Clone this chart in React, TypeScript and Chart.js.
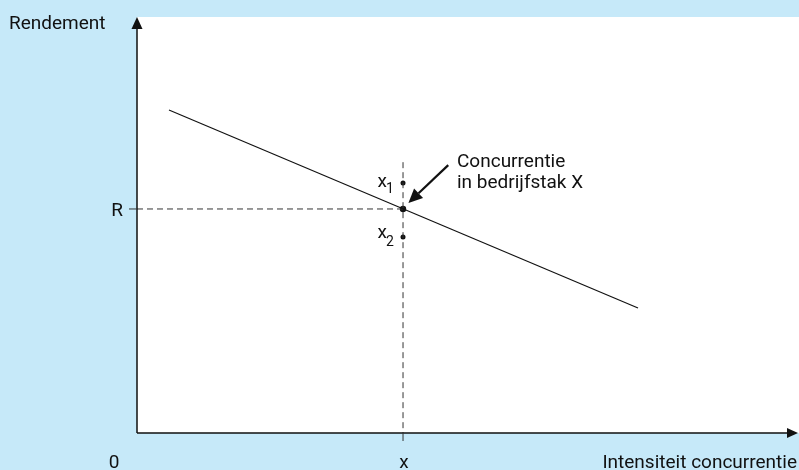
import React, { useEffect, useRef } from "react";
import { Chart, registerables } from "chart.js";

Chart.register(...registerables);

// Demand-style line: Rendement vs Intensiteit concurrentie
const lineX = [0.486, 7.614];
const lineY = [7.764, 3.005];
// Competition marker in sector X
const markX = 4.043;
const markR = 5.385;
const x1Y = 6.01;
const x2Y = 4.71;
const guideTop = 6.51;
// Annotation arrow (data coords)
const arrowFrom = [4.73, 6.44];
const arrowTo = [4.125, 5.53];

const axisLabelY = "Rendement";
const axisLabelX = "Intensiteit concurrentie";
const tickLabelR = "R";
const tickLabelX = "x";
const originLabel = "0";
const noteLines = ["Concurrentie", "in bedrijfstak X"];

const FONT = "Roboto, 'Liberation Sans', sans-serif";
const BG = "#c6e9f9";
const INK = "#111111";

const decorPlugin = {
  id: "decor",
  beforeDraw(chart: any) {
    const { ctx, chartArea, width, height } = chart;
    ctx.save();
    ctx.fillStyle = BG;
    ctx.fillRect(0, 0, width, height);
    ctx.fillStyle = "#ffffff";
    ctx.fillRect(chartArea.left, chartArea.top, width - chartArea.left, chartArea.bottom - chartArea.top);
    ctx.restore();
  },
  afterDraw(chart: any) {
    const { ctx, chartArea } = chart;
    const xs = chart.scales.x;
    const ys = chart.scales.y;
    const L = chartArea.left;
    const B = chartArea.bottom;
    ctx.save();
    ctx.strokeStyle = INK;
    ctx.fillStyle = INK;
    ctx.lineWidth = 1.5;
    // axes
    ctx.beginPath();
    ctx.moveTo(L, B);
    ctx.lineTo(L, chartArea.top + 8);
    ctx.moveTo(L, B);
    ctx.lineTo(chart.width - 8, B);
    ctx.stroke();
    // arrowheads
    ctx.beginPath();
    ctx.moveTo(L, chartArea.top);
    ctx.lineTo(L - 5.5, chartArea.top + 12);
    ctx.lineTo(L + 5.5, chartArea.top + 12);
    ctx.closePath();
    ctx.fill();
    ctx.beginPath();
    ctx.moveTo(chart.width - 1, B);
    ctx.lineTo(chart.width - 12, B - 5);
    ctx.lineTo(chart.width - 12, B + 5);
    ctx.closePath();
    ctx.fill();
    // ticks
    const rp = ys.getPixelForValue(markR);
    const xp = xs.getPixelForValue(markX);
    ctx.lineWidth = 1;
    ctx.strokeStyle = "#333";
    ctx.beginPath();
    ctx.moveTo(L - 8, rp);
    ctx.lineTo(L, rp);
    ctx.moveTo(xp, B);
    ctx.lineTo(xp, B + 8);
    ctx.stroke();
    // annotation arrow
    const ax0 = xs.getPixelForValue(arrowFrom[0]);
    const ay0 = ys.getPixelForValue(arrowFrom[1]);
    const ax1 = xs.getPixelForValue(arrowTo[0]);
    const ay1 = ys.getPixelForValue(arrowTo[1]);
    const ang = Math.atan2(ay1 - ay0, ax1 - ax0);
    const hl = 14, hw = 6.5;
    const bx = ax1 - hl * Math.cos(ang);
    const by = ay1 - hl * Math.sin(ang);
    ctx.strokeStyle = INK;
    ctx.lineWidth = 2.2;
    ctx.beginPath();
    ctx.moveTo(ax0, ay0);
    ctx.lineTo(bx, by);
    ctx.stroke();
    ctx.beginPath();
    ctx.moveTo(ax1, ay1);
    ctx.lineTo(bx + hw * Math.sin(ang), by - hw * Math.cos(ang));
    ctx.lineTo(bx - hw * Math.sin(ang), by + hw * Math.cos(ang));
    ctx.closePath();
    ctx.fill();
    // texts
    ctx.fillStyle = INK;
    ctx.textBaseline = "alphabetic";
    ctx.font = `19px ${FONT}`;
    ctx.textAlign = "left";
    ctx.fillText(axisLabelY, 9, 29);
    ctx.fillText(noteLines[0], 457, 167);
    ctx.fillText(noteLines[1], 457, 188);
    ctx.textAlign = "right";
    ctx.fillText(axisLabelX, 797, 468);
    ctx.fillText(tickLabelR, L - 14, rp + 7);
    ctx.textAlign = "center";
    ctx.fillText(tickLabelX, xp + 1, 468);
    ctx.fillText(originLabel, 114, 468);
    // x1, x2 labels with subscripts
    const y1p = ys.getPixelForValue(x1Y);
    const y2p = ys.getPixelForValue(x2Y);
    ctx.textAlign = "right";
    ctx.font = `19px ${FONT}`;
    ctx.fillText("x", 387, y1p + 4);
    ctx.fillText("x", 387, y2p + 1);
    ctx.font = `14px ${FONT}`;
    ctx.textAlign = "left";
    ctx.fillText("1", 386, y1p + 10);
    ctx.fillText("2", 386, y2p + 9);
    ctx.restore();
  },
};

export default function App() {
  const ref = useRef<HTMLCanvasElement>(null);
  useEffect(() => {
    if (!ref.current) return;
    const chart = new Chart(ref.current, {
      type: "scatter",
      data: {
        datasets: [
          {
            data: lineX.map((x, i) => ({ x, y: lineY[i] })),
            showLine: true,
            borderColor: INK,
            borderWidth: 1.2,
            pointRadius: 0,
          },
          {
            data: [
              { x: markX, y: guideTop },
              { x: markX, y: 0 },
            ],
            showLine: true,
            borderColor: "#333",
            borderWidth: 1,
            borderDash: [6, 4],
            pointRadius: 0,
          },
          {
            data: [
              { x: 0, y: markR },
              { x: markX, y: markR },
            ],
            showLine: true,
            borderColor: "#333",
            borderWidth: 1,
            borderDash: [6, 4],
            pointRadius: 0,
          },
          {
            data: [
              { x: markX, y: x1Y },
              { x: markX, y: markR },
              { x: markX, y: x2Y },
            ],
            showLine: false,
            pointRadius: [2.5, 3.2, 2.5],
            pointBackgroundColor: INK,
            pointBorderWidth: 0,
          },
        ],
      },
      options: {
        animation: false,
        responsive: false,
        layout: { padding: { left: 137, top: 17, right: 4, bottom: 37 } },
        plugins: { legend: { display: false }, tooltip: { enabled: false } },
        scales: {
          x: { type: "linear", min: 0, max: 10, display: false },
          y: { type: "linear", min: 0, max: 10, display: false },
        },
      },
      plugins: [decorPlugin],
    });
    return () => chart.destroy();
  }, []);
  return (
    <div style={{ position: "absolute", left: 0, top: 0, width: 799, height: 470 }}>
      <canvas ref={ref} width={799} height={470} />
    </div>
  );
}
